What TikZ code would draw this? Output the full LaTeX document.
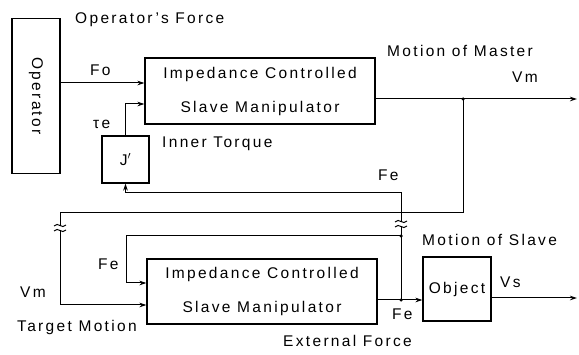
\documentclass[tikz,border=0pt]{standalone}
\usepackage{fontspec}
\setmainfont{Liberation Sans}[LetterSpace=15]
\usetikzlibrary{arrows.meta}

\tikzset{
  blk/.style={draw,line width=1.1pt,inner sep=0pt,align=center},
  lbl/.style={inner sep=0pt,anchor=base west},
  sig/.style={line width=1pt},
  arr/.style={sig,-{Stealth[length=7pt,width=4.5pt]}},
  dot/.style={circle,fill,inner sep=0pt,minimum size=3.5pt},
  linecut/.pic={
    \fill[white] (-7,-2.5) rectangle (7,2.5);
    \draw[line width=1pt] (-6,-2) .. controls (-2,-7) and (2,2) .. (6,-3);
    \draw[line width=1pt] (-6,3) .. controls (-2,-2) and (2,7) .. (6,2);
  }
}

\begin{document}
\begin{tikzpicture}[x=1pt,y={(0pt,-1pt)},font=\fontsize{15.5}{18}\selectfont]
\useasboundingbox (0,0) rectangle (579,355);
% blocks
\node[blk,minimum width=48pt,minimum height=155pt] (operator) at (36,96) {\rotatebox{-90}{Operator}};
\node[blk,minimum width=230pt,minimum height=66pt] (master) at (260,91) {Impedance Controlled\\[16pt]Slave Manipulator};
\node[blk,minimum size=47pt] (jbox) at (125.5,159.5) {J$^{\prime}$};
\node[blk,minimum width=230pt,minimum height=65pt] (slave) at (262,291.5) {Impedance Controlled\\[16pt]Slave Manipulator};
\node[blk,minimum width=68pt,minimum height=64pt] (object) at (457,289) {Object};
% points on the lines
\coordinate (fo) at (60,83);
\coordinate (te) at (125.5,104);
\coordinate (vmj) at (463,99);
\coordinate (vmout) at (577,99);
\coordinate (vml) at (60,213);
\coordinate (vmin) at (60,305);
\coordinate (fej) at (401,300);
\coordinate (fetop) at (401,193);
\coordinate (fbr) at (401,236);
\coordinate (fein) at (126,283);
\coordinate (vsout) at (577,298);
% master side
\draw[arr] (fo) -- (fo -| master.west);
\draw[arr] (jbox.north) |- (te -| master.west);
\draw[sig] (vmj -| master.east) -- (vmj);
\draw[arr] (vmj) -- (vmout);
\draw[arr] (fej) -- (fetop) -| (jbox.south);
% slave side
\draw[arr] (vmj) |- (vml) -- (vmin) -- (vmin -| slave.west);
\draw[arr] (fbr) -| (fein) -- (fein -| slave.west);
\draw[arr] (fej -| slave.east) -- (fej -| object.west);
\draw[arr] (vsout -| object.east) -- (vsout);
\node[dot] (vmdot) at (vmj) {};
\node[dot] (fedot) at (fej) {};
\node[dot] (brdot) at (fbr) {};
% breaks in the lines
\pic at (60,228) {linecut};
\pic at (401,224) {linecut};
% labels
\node[lbl] (opforce) at (75,24) {Operator's Force};
\node[lbl] (folbl) at (90,76) {Fo};
\node[lbl] (telbl) at (93,129) {τe};
\node[lbl] (inner) at (162,148) {Inner Torque};
\node[lbl] (mmaster) at (387,57) {Motion of Master};
\node[lbl] (vmtop) at (512,83) {Vm};
\node[lbl] (fetoplbl) at (378,181) {Fe};
\node[lbl] (feleft) at (98,270) {Fe};
\node[lbl] (vmleft) at (20,298) {Vm};
\node[lbl] (target) at (17,332) {Target Motion};
\node[lbl] (mslave) at (422,246) {Motion of Slave};
\node[lbl] (vslbl) at (500,288) {Vs};
\node[lbl] (felow) at (392,320) {Fe};
\node[lbl] (extforce) at (283,347) {External Force};
\end{tikzpicture}
\end{document}
